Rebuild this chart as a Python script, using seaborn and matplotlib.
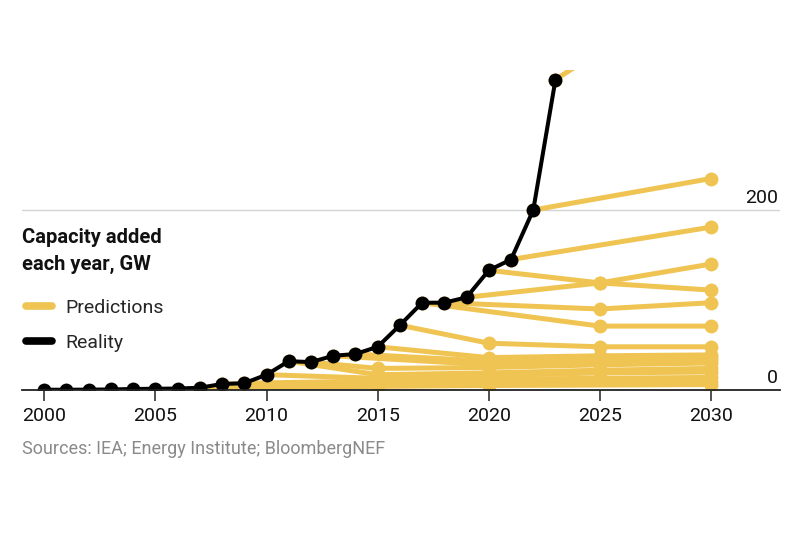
import numpy as np
import pandas as pd
import matplotlib
matplotlib.use("Agg")
import matplotlib.pyplot as plt
import seaborn as sns
from matplotlib.lines import Line2D

# ---------------- data ----------------
years_real = list(range(2000, 2024))
gw_real = [0.3, 0.3, 0.4, 0.6, 1.1, 1.4, 1.6, 2.5, 6.7, 7.5, 17, 32, 31, 38,
           40, 48, 72, 97, 97, 103, 133, 145, 200, 345]

pred_years = [
    [2007, 2015, 2020, 2030],
    [2008, 2015, 2020, 2030],
    [2009, 2015, 2020, 2025, 2030],
    [2010, 2015, 2020, 2025, 2030],
    [2011, 2015, 2020, 2025, 2030],
    [2012, 2015, 2020, 2025, 2030],
    [2013, 2020, 2025, 2030],
    [2014, 2020, 2025, 2030],
    [2015, 2020, 2025, 2030],
    [2016, 2020, 2025, 2030],
    [2017, 2025, 2030],
    [2018, 2025, 2030],
    [2019, 2025, 2030],
    [2020, 2025, 2030],
    [2021, 2030],
    [2022, 2030],
    [2023, 2030],
]
pred_values = [
    [2.5, 4, 5, 6],
    [6.7, 8, 9, 9],
    [7.5, 10, 12, 13, 14],
    [17, 13, 16, 19, 20],
    [32, 17, 19, 22, 24],
    [31, 24, 25, 28, 30],
    [38, 28, 30, 33],
    [40, 32, 35, 37],
    [48, 36, 38, 39],
    [72, 52, 48, 48],
    [97, 71, 71],
    [97, 90, 97],
    [103, 119, 140],
    [133, 119, 111],
    [145, 181],
    [200, 235],
    [345, 456],
]

x_ticks = [2000, 2005, 2010, 2015, 2020, 2025, 2030]
y_ticks = [0, 200]
title_text = "Capacity added\neach year, GW"
legend_labels = ["Predictions", "Reality"]
source_text = "Sources: IEA; Energy Institute; BloombergNEF"

YELLOW = "#EFC452"
BLACK = "#000000"

# ---------------- style ----------------
sns.set_theme(style="white")
plt.rcParams['font.family'] = ['Roboto', 'DejaVu Sans']

W, H = 800, 560
fig = plt.figure(figsize=(8, 5.6), dpi=100)
ax = fig.add_axes([22 / W, (H - 390) / H, (780 - 22) / W, (390 - 70) / H])

rows = []
for i, (ys, vs) in enumerate(zip(pred_years, pred_values)):
    for y, v in zip(ys, vs):
        rows.append({"id": i, "year": y, "gw": v})
pred_df = pd.DataFrame(rows)
real_df = pd.DataFrame({"year": years_real, "gw": gw_real})

sns.lineplot(data=pred_df, x="year", y="gw", units="id", estimator=None,
             color=YELLOW, lw=3.6, marker="o", markersize=10,
             markeredgewidth=0, ax=ax, legend=False)
sns.lineplot(data=real_df, x="year", y="gw", color=BLACK, lw=2.9,
             marker="o", markersize=10, markeredgewidth=0, ax=ax,
             legend=False)

ax.set_xlim(1999.0, 2033.1)
ax.set_ylim(0, 355.6)
ax.set_xlabel("")
ax.set_ylabel("")

ax.set_xticks(x_ticks)
ax.set_xticklabels([str(t) for t in x_ticks])
ax.tick_params(axis="x", length=8, width=1.1, color="#222222",
               labelsize=14, pad=4, labelcolor="#111111", bottom=True)

ax.set_yticks(y_ticks)
ax.set_yticklabels([])
ax.tick_params(axis="y", length=0, left=False)
ax.grid(axis="y", color="#d4d4d4", lw=1.0)
ax.grid(axis="x", visible=False)
ax.set_axisbelow(True)
for t in y_ticks:
    ax.text(0.9975, t + 3, str(t), transform=ax.get_yaxis_transform(),
            ha="right", va="bottom", fontsize=14, color="#111111")

for s in ["top", "right", "left"]:
    ax.spines[s].set_visible(False)
ax.spines["bottom"].set_color("#222222")
ax.spines["bottom"].set_linewidth(1.3)
ax.spines["bottom"].set_zorder(5)

# title
fig.text(22 / W, 1 - 228 / H, title_text, fontsize=14.5, fontweight="bold",
         ha="left", va="top", linespacing=1.52, color="#111111")

# legend
handles = [Line2D([], [], color=YELLOW, lw=5.5, solid_capstyle="round"),
           Line2D([], [], color=BLACK, lw=5.5, solid_capstyle="round")]
fig.legend(handles, legend_labels, loc="upper left",
           bbox_to_anchor=(26 / W, 1 - 299 / H), frameon=False,
           fontsize=14, handlelength=1.35, handletextpad=0.65,
           labelspacing=0.85, borderpad=0, borderaxespad=0)

# source
fig.text(22 / W, 1 - 440 / H, source_text, fontsize=13, color="#8a8a8a",
         ha="left", va="top")

fig.savefig("out.png", dpi=100, facecolor="white")
